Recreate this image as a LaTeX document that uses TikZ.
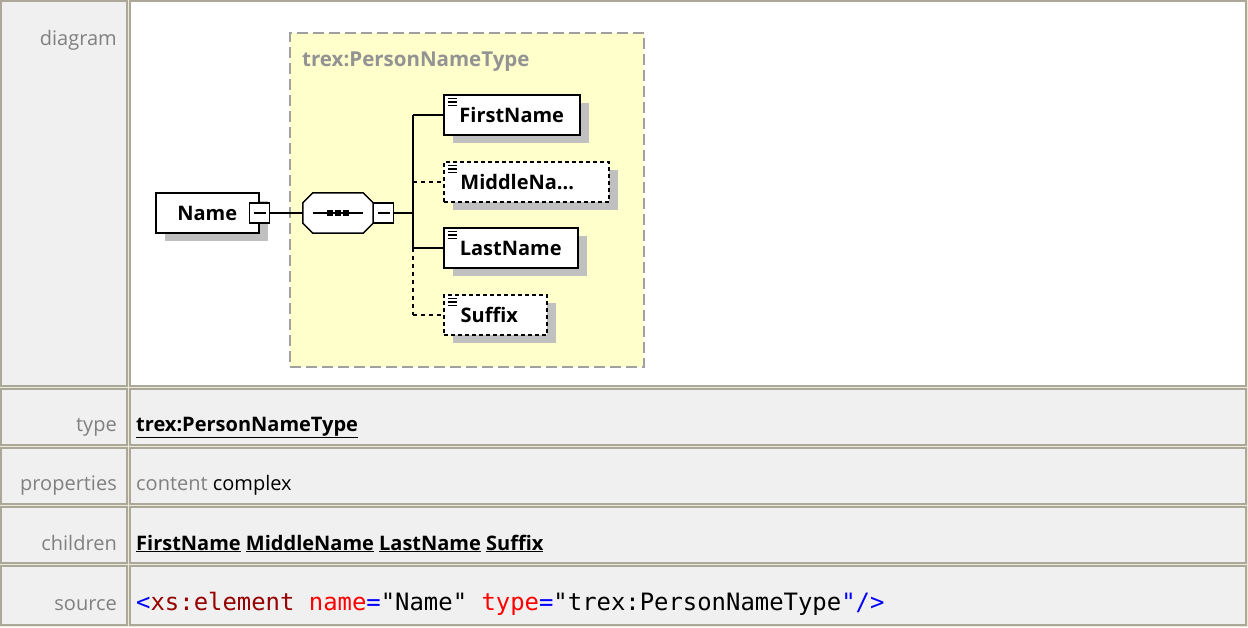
\documentclass[tikz,border=0pt]{standalone}
\usepackage{fontspec}
\setmainfont{Open Sans}
\setmonofont{DejaVu Sans Mono}
\usetikzlibrary{shadows, positioning}
\definecolor{tabline}{RGB}{172,168,153}
\definecolor{tabgap}{RGB}{236,233,216}
\definecolor{cellgray}{RGB}{240,240,240}
\definecolor{labgray}{RGB}{128,128,128}
\definecolor{typeyellow}{RGB}{255,255,204}
\definecolor{typeedge}{RGB}{160,160,160}
\definecolor{shadegray}{RGB}{192,192,192}
\definecolor{xmlblue}{RGB}{0,0,255}
\definecolor{xmlred}{RGB}{255,0,0}
\definecolor{xmlmaroon}{RGB}{150,0,0}

\begin{document}
\begin{tikzpicture}[x=1pt, y=-1pt,
  font=\fontsize{20}{24}\selectfont,
  cell/.style={draw=tabline, line width=1.5pt, fill=cellgray},
  rowlab/.style={anchor=base east, inner sep=0pt, text=labgray},
  rowval/.style={anchor=base west, inner sep=0pt},
  ctype/.style={draw=typeedge, line width=2pt, dash pattern=on 11pt off 5pt, fill=typeyellow},
  box/.style={draw, line width=1.5pt, fill=white, minimum height=40pt, inner sep=0pt,
              anchor=west, font=\fontsize{20}{24}\selectfont\bfseries,
              general shadow={fill=shadegray, shadow xshift=9pt, shadow yshift=-8pt}},
  elem/.style={box,
              path picture={\foreach \yy in {3.5,7,10.5}
                \draw[solid, line width=1.2pt] ([xshift=4pt, yshift=-\yy pt]path picture bounding box.north west) -- ++(9,0);}},
  optelem/.style={elem, dash pattern=on 4pt off 3pt},
  seqbox/.style={minimum width=70pt, minimum height=40pt, inner sep=0pt},
  seqline/.style={draw, line width=1.5pt, fill=white},
  minusbox/.style={draw, line width=1.2pt, fill=white, minimum size=20pt, inner sep=0pt,
              path picture={\draw[line width=1.2pt] ([xshift=-6pt]path picture bounding box.center) -- ++(12,0);}},
  link/.style={line width=1.5pt},
  optlink/.style={link, dash pattern=on 4pt off 4pt}
]
  \useasboundingbox (0,0) rectangle (1248,627);
  \fill[tabgap] (0,0) rectangle (1248,627);

  % table cells
  \draw[cell] (1,1) rectangle (127,386);
  \draw[cell, fill=white] (130,1) rectangle (1246,386);
  \foreach \top/\bot in {389/445, 448/504, 507/563, 566/625} {
    \draw[cell] (1,\top) rectangle (127,\bot);
    \draw[cell] (130,\top) rectangle (1246,\bot);
  }

  % row labels
  \node[rowlab] (ldiag)  at (117,45)  {diagram};
  \node[rowlab] (ltype)  at (117,431) {type};
  \node[rowlab] (lprop)  at (117,490) {properties};
  \node[rowlab] (lchild) at (117,550) {children};
  \node[rowlab] (lsrc)   at (117,610) {source};

  % row values
  \node[rowval, font=\fontsize{20}{24}\selectfont\bfseries] (vtype) at (136,431) {\underline{trex:PersonNameType}};
  \node[rowval] (vprop) at (136,490) {\textcolor{labgray}{content} complex};
  \node[rowval, font=\fontsize{20}{24}\selectfont\bfseries] (vchild) at (136,550)
    {\underline{FirstName} \underline{MiddleName} \underline{LastName} \underline{Suffix}};
  \node[rowval, font=\fontsize{23.9}{28}\ttfamily] (vsrc) at (136,610)
    {\textcolor{xmlblue}{<}\textcolor{xmlmaroon}{xs:element} \textcolor{xmlred}{name}\textcolor{xmlblue}{=}"Name" \textcolor{xmlred}{type}\textcolor{xmlblue}{=}"trex:PersonNameType\textcolor{xmlblue}{"/>}};

  % diagram
  \node[ctype, minimum width=354pt, minimum height=334pt] (ptype) at (467,200) {};
  \node[anchor=base west, inner sep=0pt, text=labgray!85, font=\fontsize{20.5}{24}\selectfont\bfseries]
    (ptitle) at (302,66) {trex:PersonNameType};

  \node[box, minimum width=103pt] (name) at (155,213) {Name};
  \node[minusbox] (nmin) at (name.east) {};

  % sequence compositor (octagon)
  \node[seqbox] (seq) at (338,213) {};
  \fill[shadegray, shift={(9pt,-8pt)}]
    ([xshift=10pt]seq.north west) -- ([xshift=-10pt]seq.north east) -- ([yshift=-10pt]seq.north east)
    -- ([yshift=10pt]seq.south east) -- ([xshift=-10pt]seq.south east) -- ([xshift=10pt]seq.south west)
    -- ([yshift=10pt]seq.south west) -- ([yshift=-10pt]seq.north west) -- cycle;
  \path[seqline]
    ([xshift=10pt]seq.north west) -- ([xshift=-10pt]seq.north east) -- ([yshift=-10pt]seq.north east)
    -- ([yshift=10pt]seq.south east) -- ([xshift=-10pt]seq.south east) -- ([xshift=10pt]seq.south west)
    -- ([yshift=10pt]seq.south west) -- ([yshift=-10pt]seq.north west) -- cycle;
  \draw[line width=1.5pt] ([xshift=-25pt]seq.center) -- ([xshift=25pt]seq.center);
  \foreach \dx in {-8,0,8}
    \fill ([xshift=\dx pt]seq.center) +(-2.6,-2.6) rectangle +(2.6,2.6);
  \node[minusbox, right=0pt of seq] (smin) {};

  \node[elem, minimum width=136pt]    (fn) at (443,115) {FirstName};
  \node[optelem, minimum width=165pt] (mn) at (443,182) {\hspace*{-18pt}MiddleNa...};
  \node[elem, minimum width=134pt]    (ln) at (443,248) {LastName};
  \node[optelem, minimum width=103pt] (sx) at (443,315) {\hspace*{-12pt}Suffix};

  \coordinate (fork) at (413,213);
  \draw[link] (nmin.east) -- (seq.west);
  \draw[link] (smin.east) -- (fork);
  \draw[link] (fork |- fn.west) -- (fork |- ln.west);
  \draw[optlink] (fork |- ln.west) -- (fork |- sx.west);
  \foreach \n/\s in {fn/link, mn/optlink, ln/link, sx/optlink}
    \draw[\s] (fork |- \n.west) -- (\n.west);
\end{tikzpicture}
\end{document}
